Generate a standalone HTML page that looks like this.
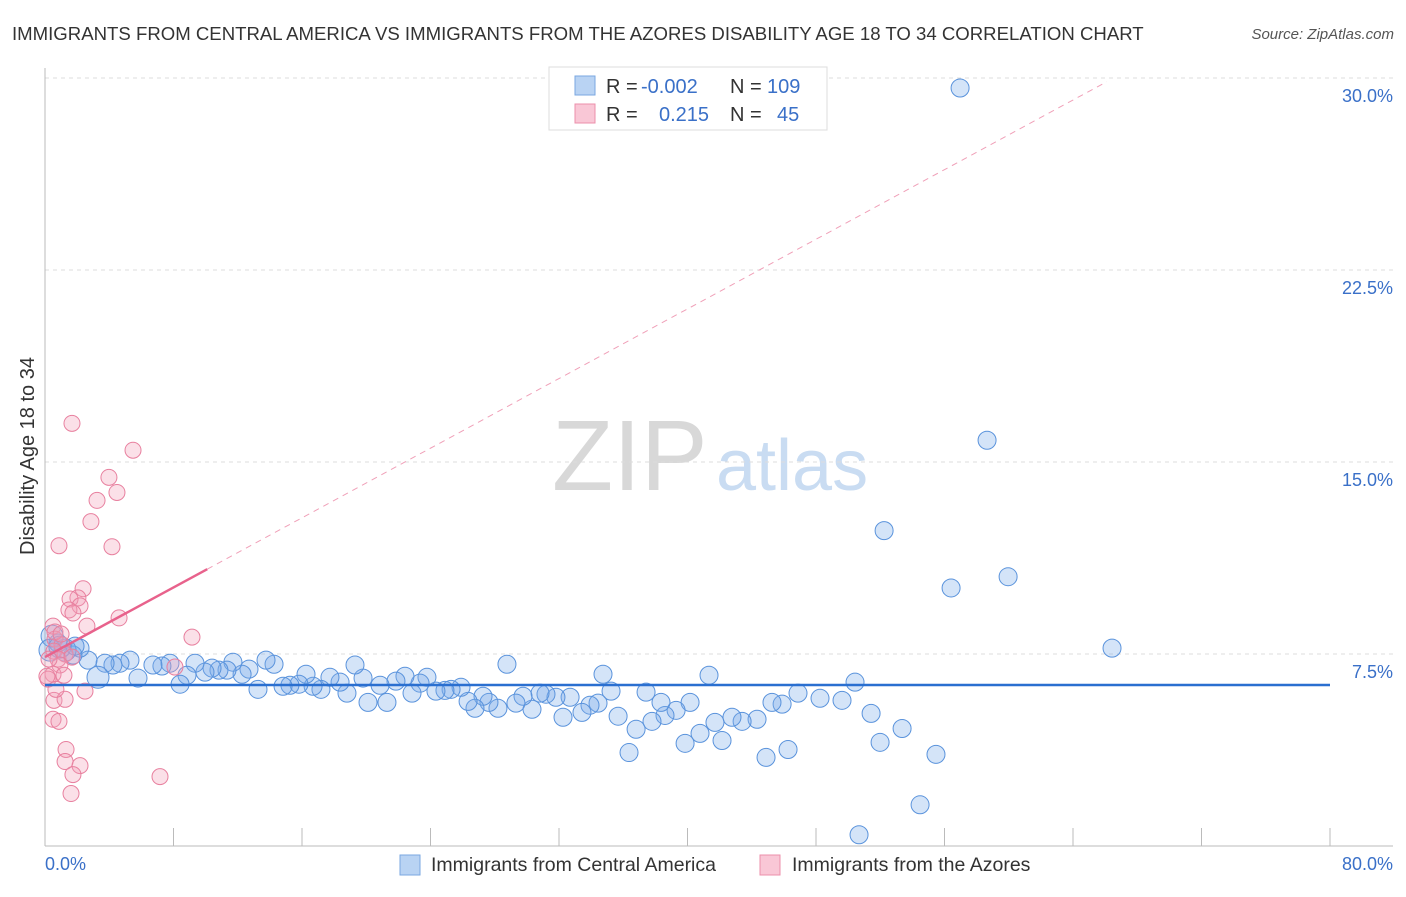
<!DOCTYPE html>
<html><head><meta charset="utf-8"><style>
body{margin:0;background:#fff;font-family:"Liberation Sans",sans-serif;}
svg text{font-family:"Liberation Sans",sans-serif;}
</style></head><body>
<svg id="chart" width="1406" height="892" xmlns="http://www.w3.org/2000/svg">
<text x="12" y="40" font-size="18.6" fill="#333">IMMIGRANTS FROM CENTRAL AMERICA VS IMMIGRANTS FROM THE AZORES DISABILITY AGE 18 TO 34 CORRELATION CHART</text>
<text x="1394" y="39" font-size="15" fill="#555" font-style="italic" text-anchor="end">Source: ZipAtlas.com</text>
<g>
<text x="552" y="490" font-size="100" font-family="Liberation Serif" fill="#d8d8d8">ZIP</text>
<text x="716" y="490" font-size="72" fill="#c9dcf2">atlas</text>
</g>
<g id="grid"></g>
<g id="axes"></g>
<g id="pts"></g>
<g id="lines"></g>
<g>
<rect x="549" y="67" width="278" height="63" fill="#fff" stroke="#ddd"/>
<rect x="575" y="76" width="20" height="19" fill="#b9d3f3" stroke="#7aa7e0"/>
<rect x="575" y="104" width="20" height="19" fill="#f9c7d6" stroke="#ec8fab"/>
<text x="606" y="93" font-size="20" fill="#333">R =</text>
<text x="641" y="93" font-size="20" fill="#3a70c8">-0.002</text>
<text x="730" y="93" font-size="20" fill="#333">N =</text>
<text x="767" y="93" font-size="20" fill="#3a70c8">109</text>
<text x="606" y="121" font-size="20" fill="#333">R =</text>
<text x="659" y="121" font-size="20" fill="#3a70c8">0.215</text>
<text x="730" y="121" font-size="20" fill="#333">N =</text>
<text x="777" y="121" font-size="20" fill="#3a70c8">45</text>
</g>
<g>
<rect x="400" y="855" width="20" height="20" fill="#b9d3f3" stroke="#7aa7e0"/>
<text x="431" y="871" font-size="19.5" fill="#333">Immigrants from Central America</text>
</g>
<g>
<rect x="760" y="855" width="20" height="20" fill="#f9c7d6" stroke="#ec8fab"/>
<text x="792" y="871" font-size="19.5" fill="#333">Immigrants from the Azores</text>
</g>
<text transform="translate(34,456) rotate(-90)" font-size="20" fill="#333" text-anchor="middle">Disability Age 18 to 34</text>
</svg>
<script>
const blueX=[56.97,58.65,52.24,56.41,59.96,66.43,50.43,51.43,51.99,53.36,55.47,54.48,50.68,49.62,48.25,46.88,45.89,45.26,46.26,44.89,44.33,43.40,42.77,41.71,42.15,40.78,39.85,41.34,40.16,39.29,38.60,38.35,37.79,37.42,36.80,36.36,35.68,35.24,34.74,34.43,33.93,33.43,32.69,32.25,31.81,31.19,30.82,30.32,29.76,29.32,28.76,28.20,27.64,27.27,26.77,26.34,25.90,25.28,24.90,24.34,23.78,23.35,22.85,22.41,21.85,21.29,20.86,20.11,19.80,19.30,18.80,18.37,17.74,17.18,16.69,16.25,15.81,15.25,14.82,14.26,13.76,13.26,12.70,12.27,11.70,11.33,10.83,10.40,9.96,9.34,8.84,8.41,7.78,7.28,6.72,5.79,5.29,4.67,4.23,3.74,3.30,2.68,2.18,1.74,1.25,0.81,0.44,0.31,0.93,1.87];
const blueY=[29.61,15.85,12.32,10.08,10.52,7.73,6.40,5.18,4.05,4.59,3.58,1.61,0.44,5.69,5.77,5.97,5.54,5.61,3.77,3.46,4.95,4.87,5.03,4.83,4.12,4.40,4.01,6.67,5.61,5.30,5.10,5.61,4.87,6.01,4.56,3.65,5.07,6.05,6.71,5.58,5.50,5.22,5.81,5.03,5.81,5.93,5.97,5.34,5.85,5.58,7.10,5.38,5.61,5.85,5.38,5.65,6.20,6.12,6.08,6.05,6.59,6.36,5.97,6.63,6.44,5.61,6.28,5.61,6.56,7.07,5.97,6.40,6.59,6.12,6.24,6.71,6.32,6.28,6.24,7.10,7.26,6.12,6.91,6.71,7.18,6.87,6.87,6.95,6.79,7.14,6.67,6.32,7.14,7.03,7.07,6.56,7.26,7.14,7.07,7.14,6.59,7.26,7.73,7.46,7.65,7.93,8.20,7.65,7.77,7.81];
const blueR=[9,9,9,9,9,9,9,9,9,9,9,9,9,9,9,9,9,9,9,9,9,9,9,9,9,9,9,9,9,9,9,9,9,9,9,9,9,9,9,9,9,9,9,9,9,9,9,9,9,9,9,9,9,9,9,9,9,9,9,9,9,9,9,9,9,9,9,9,9,9,9,9,9,9,9,9,9,9,9,9,9,9,9,9,9,9,9,9,9,9,9,9,9,9,9,9,9,9,9,9,11,9,9,9,11,9,11,11,11,9,11];
const pinkX=[1.68,5.48,3.98,4.48,3.24,2.86,4.17,0.87,2.37,2.05,1.56,2.18,1.49,1.74,2.61,4.61,9.15,0.50,0.62,1.06,0.56,1.25,0.81,1.68,0.93,0.50,1.18,0.19,0.12,2.49,0.56,0.50,0.87,1.31,1.25,2.18,1.74,1.62,7.16,8.09,1.25,0.68,0.25,0.62,1.00];
const pinkY=[16.51,15.46,14.40,13.81,13.50,12.67,11.69,11.73,10.05,9.69,9.65,9.38,9.22,9.10,8.59,8.91,8.16,8.59,8.08,7.85,7.61,7.50,7.30,7.38,7.07,6.71,6.67,6.52,6.63,6.05,5.69,4.95,4.87,3.77,3.30,3.14,2.79,2.05,2.71,6.99,5.73,6.12,7.30,8.36,8.28];
const yTicks=[7.5,15,22.5,30];
const yTickLabels=["7.5%","15.0%","22.5%","30.0%"];
const xTicks=[0,8,16,24,32,40,48,56,64,72,80];
const blueFit=[6.29,6.29];
const pinkFit=[7.38,0.34];
const pinkSolidEnd=10.1, pinkDashEnd=66.1;

const NS="http://www.w3.org/2000/svg";
const X=v=>45+v/80*1285;
const Y=v=>846-v*25.6;
function mk(tag,attrs,parent){const e=document.createElementNS(NS,tag);for(const k in attrs)e.setAttribute(k,attrs[k]);document.getElementById(parent).appendChild(e);return e;}
yTicks.forEach((t,i)=>{
 const g=mk('line',{x1:45,x2:1393,y1:Y(t),y2:Y(t),stroke:'#ddd','stroke-dasharray':'4,4'},'grid');
 
 
 const l=mk('text',{x:1393,y:Y(t)+24,'font-size':18,fill:'#3a70c8','text-anchor':'end'},'grid');
 l.textContent=yTickLabels[i];
 
 
});
const ax=mk('line',{x1:45,x2:1393,y1:846,y2:846,stroke:'#bbb'},'axes');


const ay=mk('line',{x1:45,x2:45,y1:68,y2:846,stroke:'#bbb'},'axes');


xTicks.forEach(t=>{
 const k=mk('line',{x1:X(t),x2:X(t),y1:828,y2:846,stroke:'#bbb'},'axes');
 
 
});
const xl0=mk('text',{x:45,y:870,'font-size':18,fill:'#3a70c8'},'axes');xl0.textContent=xTicks[0].toFixed(1)+'%';


const xl1=mk('text',{x:1393,y:870,'font-size':18,fill:'#3a70c8','text-anchor':'end'},'axes');xl1.textContent=xTicks[xTicks.length-1].toFixed(1)+'%';


blueX.forEach((x,i)=>{
 const c=mk('circle',{cx:X(x),cy:Y(blueY[i]),r:blueR[i],fill:'rgba(120,170,232,0.32)',stroke:'#5a93dc','stroke-width':1},'pts');
 
 
});
pinkX.forEach((x,i)=>{
 const c=mk('circle',{cx:X(x),cy:Y(pinkY[i]),r:8,fill:'rgba(244,160,185,0.32)',stroke:'#e8809f','stroke-width':1},'pts');
 
 
});
const bl=mk('line',{x1:X(0),x2:X(80),y1:Y(blueFit[0]),y2:Y(blueFit[1]),stroke:'#2a6fd0','stroke-width':2.5},'lines');


const pd=mk('line',{x1:X(pinkSolidEnd),x2:X(pinkDashEnd),y1:Y(pinkFit[0]+pinkFit[1]*pinkSolidEnd),y2:Y(pinkFit[0]+pinkFit[1]*pinkDashEnd),stroke:'#f0a0b8','stroke-width':1,'stroke-dasharray':'6,5'},'lines');


const ps=mk('line',{x1:X(0),x2:X(pinkSolidEnd),y1:Y(pinkFit[0]),y2:Y(pinkFit[0]+pinkFit[1]*pinkSolidEnd),stroke:'#e8628c','stroke-width':2.5},'lines');


</script>
</body></html>
